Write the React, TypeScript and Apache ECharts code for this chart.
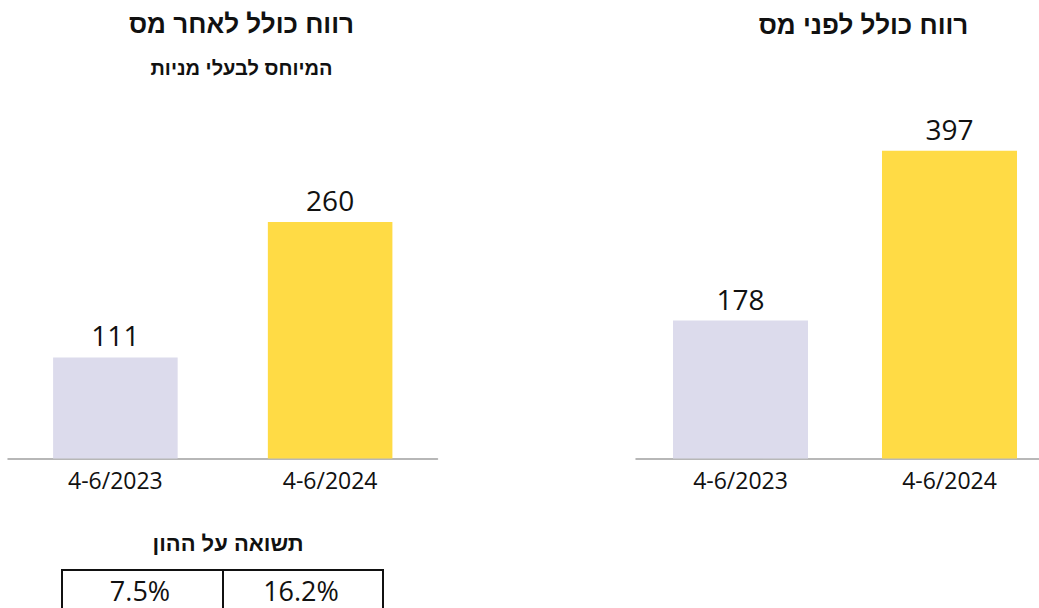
import React, { useEffect, useRef } from "react";
import * as echarts from "echarts";

const categories = ["4-6/2023", "4-6/2024"];
const afterTaxValues = [111, 260];
const beforeTaxValues = [178, 397];
const roeLabels = ["7.5%", "16.2%"];

const titleAfter = "רווח כולל לאחר מס";
const subtitleAfter = "המיוחס לבעלי מניות";
const titleBefore = "רווח כולל לפני מס";
const roeTitle = "תשואה על ההון";

const barColors = ["#DCDBEC", "#FFDB45"];
const numFont = "'Open Sans', 'DejaVu Sans', sans-serif";
const hebFont = "'Liberation Sans', 'DejaVu Sans', sans-serif";

export default function App() {
  const ref = useRef<HTMLDivElement>(null);
  useEffect(() => {
    if (!ref.current) return;
    const chart = echarts.init(ref.current, null, { renderer: "svg" });
    const mkData = (vals: number[]) =>
      vals.map((v, i) => ({ value: v, itemStyle: { color: barColors[i] } }));
    const xAxisCommon = {
      type: "category" as const,
      data: categories,
      axisLine: { show: true, lineStyle: { color: "#A0A0A0", width: 1.5 } },
      axisTick: { show: false },
      axisLabel: { fontFamily: numFont, fontSize: 23, color: "#111", margin: 10 },
    };
    const labelCommon = {
      show: true,
      position: "top" as const,
      distance: 8,
      fontFamily: numFont,
      fontSize: 28,
      color: "#111",
    };
    chart.setOption({
      animation: false,
      grid: [
        { left: 8, width: 429.5, top: 94.5, height: 364, outerBoundsMode: "none" },
        { left: 636, width: 418, top: 71, height: 387.5, outerBoundsMode: "none" },
      ],
      xAxis: [
        { ...xAxisCommon, gridIndex: 0 },
        { ...xAxisCommon, gridIndex: 1 },
      ],
      yAxis: [
        { type: "value", gridIndex: 0, min: 0, max: 400, show: false, splitLine: { show: false } },
        { type: "value", gridIndex: 1, min: 0, max: 500, show: false, splitLine: { show: false } },
      ],
      series: [
        {
          type: "bar",
          xAxisIndex: 0,
          yAxisIndex: 0,
          barWidth: "58%",
          data: mkData(afterTaxValues),
          label: labelCommon,
        },
        {
          type: "bar",
          xAxisIndex: 1,
          yAxisIndex: 1,
          barWidth: "64.6%",
          data: mkData(beforeTaxValues),
          label: labelCommon,
        },
      ],
      graphic: [
        {
          type: "text",
          x: 241.5,
          y: 24,
          style: {
            text: titleAfter,
            fontFamily: hebFont,
            fontWeight: "bold",
            fontSize: 26,
            fill: "#111",
            textAlign: "center",
            textVerticalAlign: "middle",
          },
        },
        {
          type: "text",
          x: 241.5,
          y: 68,
          style: {
            text: subtitleAfter,
            fontFamily: hebFont,
            fontWeight: "bold",
            fontSize: 20,
            fill: "#111",
            textAlign: "center",
            textVerticalAlign: "middle",
          },
        },
        {
          type: "text",
          x: 863.5,
          y: 25,
          style: {
            text: titleBefore,
            fontFamily: hebFont,
            fontWeight: "bold",
            fontSize: 26,
            fill: "#111",
            textAlign: "center",
            textVerticalAlign: "middle",
          },
        },
        {
          type: "text",
          x: 228,
          y: 543,
          style: {
            text: roeTitle,
            fontFamily: hebFont,
            fontWeight: "bold",
            fontSize: 22,
            fill: "#111",
            textAlign: "center",
            textVerticalAlign: "middle",
          },
        },
        {
          type: "rect",
          shape: { x: 62, y: 570, width: 321, height: 60 },
          style: { fill: "none", stroke: "#111", lineWidth: 2 },
        },
        {
          type: "line",
          shape: { x1: 223, y1: 570, x2: 223, y2: 630 },
          style: { stroke: "#111", lineWidth: 2 },
        },
        ...roeLabels.map((t, i) => ({
          type: "text",
          x: i === 0 ? 140 : 301,
          y: 590,
          style: {
            text: t,
            fontFamily: numFont,
            fontSize: 27,
            fill: "#111",
            textAlign: "center",
            textVerticalAlign: "middle",
          },
        })),
      ],
    });
    return () => chart.dispose();
  }, []);
  return (
    <div
      ref={ref}
      style={{ position: "absolute", left: 0, top: 0, width: 1039, height: 608, background: "#fff" }}
    />
  );
}
